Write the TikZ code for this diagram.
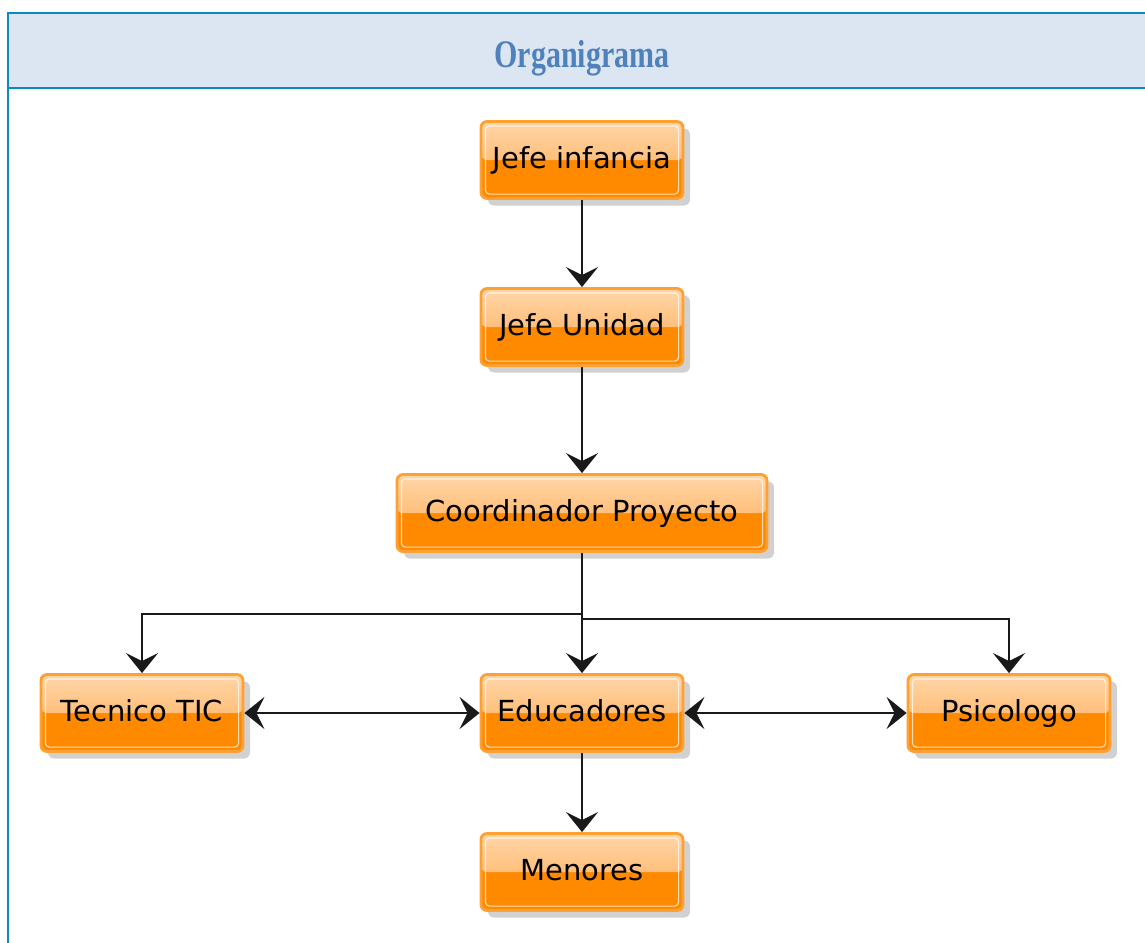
\documentclass[tikz,border=0pt]{standalone}
\usepackage{fontspec}
\setmainfont{DejaVu Sans}
\newfontfamily\titlefont{Liberation Serif}
\usetikzlibrary{arrows.meta,shadows}
\definecolor{frameblue}{RGB}{10,138,192}
\definecolor{headfill}{RGB}{220,230,242}
\definecolor{titleblue}{RGB}{79,129,189}
\definecolor{boxorange}{RGB}{255,138,0}
\definecolor{boxlight}{RGB}{255,214,168}
\definecolor{boxmid}{RGB}{255,168,78}
\definecolor{boxedge}{RGB}{255,160,50}
\tikzset{
  orgbox/.style={draw=boxedge, line width=1.4pt, fill=boxorange, rounded corners=3pt,
    minimum width=101pt, minimum height=38.5pt, inner sep=0pt,
    font=\fontsize{14.5}{16}\selectfont, text=black,
    text height=0.95em, text depth=0.08em,
    drop shadow={shadow xshift=3.5pt, shadow yshift=-3.5pt, opacity=0.18, fill=black},
    path picture={
      \fill[top color=boxlight, bottom color=boxmid] (path picture bounding box.north west) rectangle (path picture bounding box.east);
      \draw[white, opacity=0.7, line width=0.6pt, rounded corners=2pt]
        ([shift={(2.2pt,-2.2pt)}]path picture bounding box.north west) rectangle ([shift={(-2.2pt,2.2pt)}]path picture bounding box.south east);
    }},
  conn/.style={line width=1.2pt, black!90},
  tip/.tip={Stealth[length=10pt, width=16pt, inset=4pt]},
  arr/.style={conn, -tip},
  darr/.style={conn, tip-tip}
}
\begin{document}
\begin{tikzpicture}[x=0.5pt, y=-0.5pt]
\useasboundingbox (0,0) rectangle (1145,942);
\begin{scope}
\clip (0,0) rectangle (1145,942);
\fill[headfill] (8,13) rectangle (1160,88);
\draw[frameblue, line width=1.3pt] (8,13) rectangle (1160,960);
\draw[frameblue, line width=1.3pt] (8,88) -- (1160,88);
\end{scope}
\node[font=\titlefont\bfseries\fontsize{15}{17}\selectfont, text=titleblue, yscale=1.3] (title) at (582,58) {Organigrama};

\node[orgbox] (jefi) at (582,160) {Jefe infancia};
\node[orgbox] (jefu) at (582,327) {Jefe Unidad};
\node[orgbox, minimum width=185pt] (coord) at (582,513) {Coordinador Proyecto};
\node[orgbox] (tic) at (142,713) {Tecnico TIC};
\node[orgbox] (edu) at (582,713) {Educadores};
\node[orgbox] (psi) at (1009,713) {Psicologo};
\node[orgbox] (men) at (582,872) {Menores};

\coordinate (b1) at (582,614);
\coordinate (b2) at (582,619);

\draw[arr] (jefi) -- (jefu);
\draw[arr] (jefu) -- (coord);
\draw[arr] (coord) -- (edu);
\draw[arr] (b1) -| (tic.north);
\draw[arr] (b2) -| (psi.north);
\draw[darr] (tic) -- (edu);
\draw[darr] (edu) -- (psi);
\draw[arr] (edu) -- (men);
\end{tikzpicture}
\end{document}
